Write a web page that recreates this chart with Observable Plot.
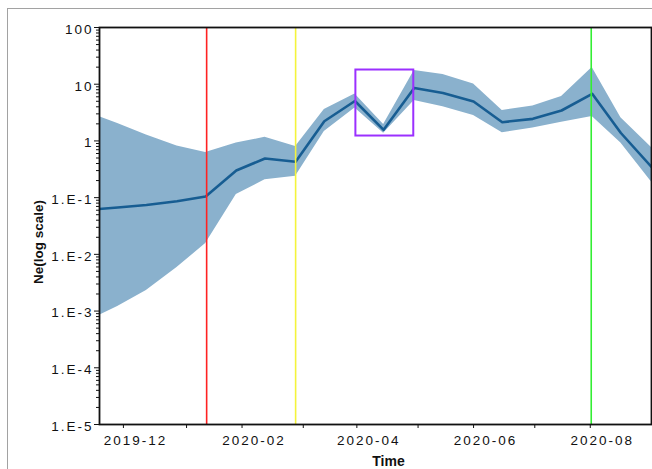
<!DOCTYPE html>
<html>
<head>
<meta charset="utf-8">
<script src="https://cdn.jsdelivr.net/npm/d3@7"></script>
<script src="https://cdn.jsdelivr.net/npm/@observablehq/plot@0.6"></script>
<style>
  html, body { margin: 0; padding: 0; background: white; }
  #wrap { position: relative; width: 652px; height: 469px; overflow: hidden; background: white; }
  #outer { position: absolute; left: 7px; top: 8px; width: 700px; height: 520px;
           border-top: 1.5px solid #a2a2a2; border-left: 1.5px solid #a2a2a2; pointer-events: none; z-index: 2; }
  #wrap svg text { letter-spacing: 2px; }
  #wrap svg g[aria-label="text"] text { letter-spacing: 0; }
</style>
</head>
<body>
<div id="wrap"><div id="outer"></div></div>
<script>
// ---- data ----
const dates = ["2019-11-12","2019-11-28","2019-12-13","2019-12-29","2020-01-13","2020-01-29",
  "2020-02-13","2020-02-29","2020-03-15","2020-03-31","2020-04-15","2020-05-01","2020-05-16",
  "2020-06-01","2020-06-16","2020-07-02","2020-07-17","2020-08-02","2020-08-17","2020-09-02"];
const neMedian = [0.0605, 0.067, 0.0741, 0.0865, 0.1047, 0.301, 0.49, 0.428, 2.22, 5.06,
  1.57, 8.58, 7.0, 4.96, 2.14, 2.45, 3.44, 6.78, 1.38, 0.347];
const neUpper = [3.24, 2.03, 1.27, 0.813, 0.625, 0.918, 1.16, 0.798, 3.58, 6.72,
  1.95, 17.5, 14.8, 10.1, 3.44, 4.13, 6.07, 19.7, 2.57, 0.766];
const neLower = [6.62e-4, 1.2e-3, 2.3e-3, 5.86e-3, 0.0155, 0.1135, 0.206, 0.239, 1.47, 3.81,
  1.37, 5.16, 4.0, 2.81, 1.39, 1.69, 2.14, 2.7, 0.918, 0.189];

const eventDates = ["2020-01-13T12:00Z", "2020-02-29T00:00Z", "2020-08-01T12:00Z"];
const eventColors = ["#ff2222", "#f4f43c", "#33ee33"];

const boxX = ["2020-03-31T12:00Z", "2020-04-30T18:00Z"];
const boxY = [1.22, 17.8];

const xDomain = ["2019-11-18T12:00Z", "2020-09-02T00:00Z"];
const xTickDates = ["2019-12-01", "2020-02-01", "2020-04-01", "2020-06-01", "2020-08-01"];
const xTickLabels = ["2019-12", "2020-02", "2020-04", "2020-06", "2020-08"];
const xMinorTickDates = ["2020-01-03", "2020-03-04", "2020-05-03", "2020-07-03"];

const yDomain = [1e-5, 100];
const yTicks = [100, 10, 1, 0.1, 0.01, 0.001, 1e-4, 1e-5];
const yTickLabels = ["100", "10", "1", "1.E-1", "1.E-2", "1.E-3", "1.E-4", "1.E-5"];

const xTitle = "Time";
const yTitle = "Ne(log scale)";

// ---- build ----
const toDate = s => new Date(s.length === 10 ? s + "T00:00Z" : s);
const table = dates.map((d, i) => ({date: toDate(d), ne: neMedian[i], lo: neLower[i], hi: neUpper[i]}));
const xMajor = xTickDates.map(toDate);
const xLabelMap = new Map(xMajor.map((d, i) => [+d, xTickLabels[i]]));
const yLabelMap = new Map(yTicks.map((v, i) => [v, yTickLabels[i]]));
const yMinor = d3.scaleLog().domain(yDomain).ticks().filter(v => !yTicks.some(t => Math.abs(Math.log10(v) - Math.log10(t)) < 1e-9));

const chart = Plot.plot({
  width: 652,
  height: 469,
  marginLeft: 99,
  marginRight: 1,
  marginTop: 27,
  marginBottom: 45,
  style: {fontFamily: "'Liberation Sans', Arial, sans-serif", fontSize: "13.5px", background: "transparent", color: "#111"},
  x: {type: "utc", domain: xDomain.map(toDate), label: null, axis: null},
  y: {type: "log", domain: yDomain, label: null, axis: null},
  marks: [
    Plot.areaY(table, {x: "date", y1: "lo", y2: "hi", fill: "#8ab1cd", clip: true}),
    Plot.lineY(table, {x: "date", y: "ne", stroke: "#175d92", strokeWidth: 2.6, clip: true}),
    ...eventDates.map((d, i) => Plot.ruleX([toDate(d)], {stroke: eventColors[i], strokeWidth: 1.6})),
    Plot.rect([{x1: toDate(boxX[0]), x2: toDate(boxX[1]), y1: boxY[0], y2: boxY[1]}],
      {x1: "x1", x2: "x2", y1: "y1", y2: "y2", fill: "none", stroke: "#9b30ff", strokeWidth: 2}),
    Plot.frame({stroke: "#111", strokeWidth: 1.8}),
    // x axis ticks and labels
    Plot.axisX({ticks: xMajor, tickSize: 4, tickFormat: () => "", label: null}),
    Plot.axisX({ticks: xMinorTickDates.map(toDate), tickSize: 4, tickFormat: () => "", label: null}),
    Plot.axisX({ticks: xMajor, tickSize: 0, tickPadding: 11, dx: 12, tickFormat: d => xLabelMap.get(+d), label: null}),
    // y axis ticks and labels
    Plot.axisY({ticks: yTicks, tickSize: 5, tickFormat: () => "", label: null}),
    Plot.axisY({ticks: yMinor, tickSize: 3, tickFormat: () => "", label: null}),
    Plot.axisY({ticks: yTicks, tickSize: 0, tickPadding: 6, dy: 2, tickFormat: v => yLabelMap.get(v), label: null}),
    // titles
    Plot.text([xTitle], {frameAnchor: "bottom", textAnchor: "middle", dx: 13, dy: 41, fontWeight: "bold", fontSize: 14, fill: "#111"}),
    Plot.text([yTitle], {frameAnchor: "left", textAnchor: "middle", lineAnchor: "middle", rotate: -90, dx: -60.5, dy: 16, fontWeight: "bold", fontSize: 13.5, fill: "#111"})
  ]
});
document.getElementById("wrap").appendChild(chart);
</script>
</body>
</html>
